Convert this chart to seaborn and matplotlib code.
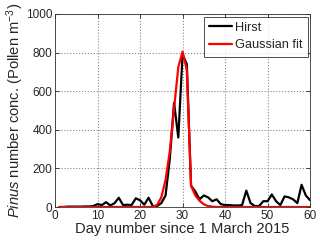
import matplotlib
matplotlib.use("Agg")
import matplotlib.pyplot as plt
import seaborn as sns
import pandas as pd
import numpy as np

days = list(range(1, 61))
hirst = [0, 0, 2, 2, 2, 2, 3, 3, 5, 15,
         10, 25, 8, 20, 48, 10, 12, 10, 45, 35,
         12, 48, 5, 5, 20, 60, 250, 540, 360, 790,
         740, 110, 80, 40, 60, 50, 30, 40, 15, 10,
         10, 8, 8, 10, 85, 20, 5, 5, 30, 30,
         65, 30, 10, 55, 50, 40, 20, 115, 60, 35]
gauss = [0] * 22 + [2, 10, 50, 140, 290, 510, 725, 805,
                    710, 110, 60, 32, 14, 5, 2] + [0] * 23

sns.set_theme(style="ticks")
plt.rcParams['font.family'] = ['Liberation Sans', 'DejaVu Sans']
plt.rcParams['mathtext.fontset'] = 'custom'
plt.rcParams['mathtext.rm'] = 'Liberation Sans'
plt.rcParams['mathtext.it'] = 'Liberation Sans:italic'

df = pd.DataFrame({"day": days * 2,
                   "conc": hirst + gauss,
                   "series": ["Hirst"] * 60 + ["Gaussian fit"] * 60})

fig = plt.figure(figsize=(3.2, 2.41), dpi=100)
ax = fig.add_axes([0.172, 0.141, 0.797, 0.801])
sns.lineplot(data=df, x="day", y="conc", hue="series",
             palette={"Hirst": "black", "Gaussian fit": "red"},
             linewidth=1.6, ax=ax)

ax.set_xlim(0, 60)
ax.set_ylim(0, 1000)
ax.set_xticks(range(0, 61, 10))
ax.set_yticks(range(0, 1001, 200))
ax.grid(True, color="#888888", linestyle=":", linewidth=0.8)
ax.tick_params(direction="in", labelsize=8.5, length=3, width=0.6, pad=2,
               top=True, right=True)
for s in ax.spines.values():
    s.set_linewidth(0.6)
    s.set_color("#333333")
ax.set_xlabel("Day number since 1 March 2015", fontsize=10.6, labelpad=0)
ax.set_ylabel(r"$\it{Pinus}$ number conc. (Pollen m$^{-3}$)", fontsize=10.6, labelpad=0)
leg = ax.legend(loc="upper right", fontsize=9.2, frameon=True, fancybox=False,
                borderpad=0.4, handlelength=1.8, handletextpad=0.25,
                labelspacing=0.45, borderaxespad=0.2)
leg.get_frame().set_edgecolor("black")
leg.get_frame().set_linewidth(0.6)
leg.set_title(None)

fig.savefig("out.png", dpi=100)
